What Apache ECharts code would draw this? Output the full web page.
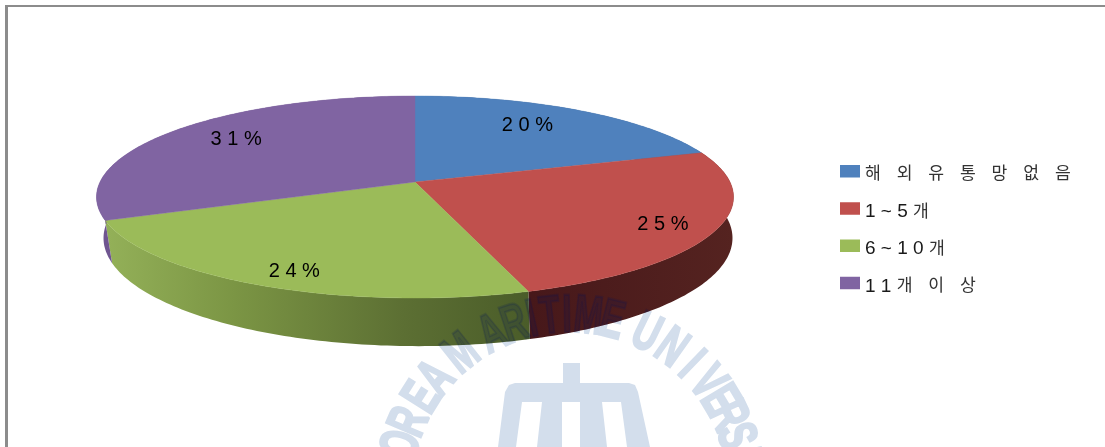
<!DOCTYPE html>
<html lang="ko">
<head>
<meta charset="utf-8">
<title>해외 유통망 개수</title>
<style>
  html, body { margin: 0; padding: 0; background: #fff; overflow: hidden; }
  #chart { width: 1105px; height: 447px; }
</style>
<script src="https://cdn.jsdelivr.net/npm/echarts@6/dist/echarts.min.js"></script>
</head>
<body>
<div id="chart"></div>
<script>
// Slices, clockwise from twelve o'clock
const categories = ['해   외   유   통   망   없   음', '1 ~ 5 개', '6 ~ 1 0 개', '1 1 개   이   상'];
const shares = [20, 25, 24, 31];

const faceColors = ['#4f81bd', '#c0504d', '#9bbb59', '#8064a2'];
const frameColor = '#8c8c8c';
const crestColor = '#d3deec';
const crestShade = 'rgba(0, 20, 90, 0.17)';
const FONT = '"Liberation Sans", "Noto Sans CJK KR", sans-serif';

// Perspective disc: the far rim is drawn smaller than the near rim
const TILT = 0.1485;
const topFace = { cx: 415, cy: 182, a: 315, b: 98.8 };
const baseFace = { cx: 418, cy: 222, a: 311, b: 105.7 };

// Wall shading along x, per slice
const wallStops = [
  [[0, '#3a5f8e'], [1, '#3a5f8e']],
  [[0, '#47181a'], [1, '#552320']],
  [[0, '#93b058'], [0.3, '#7b9544'], [0.7, '#5c6f33'], [1, '#4a5c29']],
  [[0, '#6f5590'], [1, '#6f5590']]
];
const wallSpan = [[415, 734], [531, 734], [108, 531], [97, 415]];

// Where each percentage sits: fraction of the radius, then a small nudge
const labelRadius = [0.75, 0.84, 0.85, 0.75];
const labelNudge = [[-15, -2], [-2, 3], [8, 4], [5, -3]];

function project(face, deg, r) {
  const t = deg * Math.PI / 180;
  const u = r * Math.sin(t), v = r * Math.cos(t);
  const d = 1 + TILT * v;
  return [face.cx + face.a * u / d, face.cy - face.b * v / d];
}

function arc(face, from, to) {
  const pts = [];
  const n = Math.max(2, Math.ceil(to - from));
  for (let i = 0; i <= n; i++) pts.push(project(face, from + (to - from) * i / n, 1));
  return pts;
}

// [start, end] of every slice in degrees, accumulated from the shares
const total = shares.reduce((s, v) => s + v, 0);
let running = 0;
const sliceRanges = shares.map(v => {
  const range = [running / total * 360, (running + v) / total * 360];
  running += v;
  return range;
});

function renderWall(params, api) {
  const i = params.seriesIndex;
  const from = api.value(0), to = api.value(1);
  const points = arc(topFace, from, to).concat(arc(baseFace, from, to).reverse());
  return {
    type: 'polygon',
    shape: { points },
    style: {
      fill: {
        type: 'linear', global: true,
        x: wallSpan[i][0], y: 0, x2: wallSpan[i][1], y2: 0,
        colorStops: wallStops[i].map(s => ({ offset: s[0], color: s[1] }))
      }
    }
  };
}

function renderTop(params, api) {
  const i = params.seriesIndex - shares.length;
  const from = api.value(0), to = api.value(1);
  const mid = (from + to) / 2;
  const p = project(topFace, mid, labelRadius[i]);
  return {
    type: 'group',
    children: [
      {
        type: 'polygon',
        shape: { points: [[topFace.cx, topFace.cy]].concat(arc(topFace, from, to)) },
        style: { fill: faceColors[i], stroke: faceColors[i], lineWidth: 0.4 }
      },
      {
        type: 'text',
        z2: 10,
        style: {
          x: p[0] + labelNudge[i][0],
          y: p[1] + labelNudge[i][1],
          text: String(shares[i]).split('').join(' ') + ' %',
          align: 'center',
          verticalAlign: 'middle',
          fill: '#000',
          font: '20px ' + FONT
        }
      }
    ]
  };
}

const wallSeries = sliceRanges.map((r, i) => ({
  type: 'custom', name: 'wall' + i, coordinateSystem: 'none', silent: true,
  z: 3, renderItem: renderWall, data: [r]
}));
const topSeries = sliceRanges.map((r, i) => ({
  type: 'custom', name: categories[i], coordinateSystem: 'none', silent: true,
  z: 4, renderItem: renderTop, itemStyle: { color: faceColors[i] }, data: [r]
}));

// Faint university crest behind the chart
const crestLetters = 'KOREA MARITIME UNIVERSITY'.replace(/ /g, '').split('');
const crestAngles = [-83, -75, -67, -58, -50, -38.5, -26.4, -18.5, -12.5, -6.5, -1, 6, 14, 26, 35.5, 44, 52, 59, 65, 72, 78, 83, 89];
const crestCentre = [570, 490], crestRadius = 173;

function crestLetter(ch, i, fill) {
  const t = crestAngles[i] * Math.PI / 180;
  return {
    type: 'text', silent: true,
    x: crestCentre[0] + crestRadius * Math.sin(t),
    y: crestCentre[1] - crestRadius * Math.cos(t),
    rotation: -t, scaleX: 0.64,
    style: {
      text: ch, align: 'center', verticalAlign: 'middle',
      fontFamily: 'Liberation Sans', fontWeight: 'bold', fontSize: 54,
      fill, stroke: fill, lineWidth: 2.5
    }
  };
}

const crestText = crestLetters.map((ch, i) => Object.assign(crestLetter(ch, i, crestColor), { z: 1 }));

// The part of the lettering that shows through the near wall of the disc
const crestOverWall = {
  type: 'custom', name: 'crestShade', coordinateSystem: 'none', silent: true, z: 5,
  data: [[0]],
  renderItem: () => ({
    type: 'group',
    clipPath: {
      type: 'polygon',
      shape: { points: arc(topFace, 90, 270).concat(arc(baseFace, 90, 270).reverse()) }
    },
    children: crestLetters.map((ch, i) => crestLetter(ch, i, crestShade))
  })
};

const crestShapes = [
  [[563, 363], [580, 363], [580, 384], [563, 384]],
  [[498, 447], [505, 392], [509, 385], [515, 383], [629, 383], [635, 385], [638, 392], [650, 447], [627, 447], [621, 402], [602, 402], [607, 447], [580, 447], [580, 402], [562, 402], [562, 447], [537, 447], [542, 402], [522, 402], [516, 447]]
].map(points => ({
  type: 'polygon', z: 1, silent: true, shape: { points }, style: { fill: crestColor }
}));

const frame = [
  { type: 'rect', z: 60, silent: true, shape: { x: 5, y: 5, width: 1100, height: 2 }, style: { fill: frameColor } },
  { type: 'rect', z: 60, silent: true, shape: { x: 5, y: 5, width: 3, height: 442 }, style: { fill: frameColor } }
];

const chart = echarts.init(document.getElementById('chart'), null, { renderer: 'canvas' });
chart.setOption({
  animation: false,
  backgroundColor: '#fff',
  legend: {
    orient: 'vertical',
    left: 835, top: 160,
    itemWidth: 20, itemHeight: 12.5, itemGap: 18,
    icon: 'rect',
    selectedMode: false,
    data: categories,
    formatter: name => name.replace(/[가-힣]+/g, m => '{k|' + m + '}'),
    textStyle: {
      color: '#1a1a1a', fontFamily: FONT, fontSize: 19, padding: [7, 0, 0, 0],
      rich: { k: { fontFamily: FONT, fontSize: 17.2, color: '#333' } }
    }
  },
  graphic: { elements: crestShapes.concat(crestText, frame) },
  series: wallSeries.concat(topSeries, [crestOverWall])
});
</script>
</body>
</html>
